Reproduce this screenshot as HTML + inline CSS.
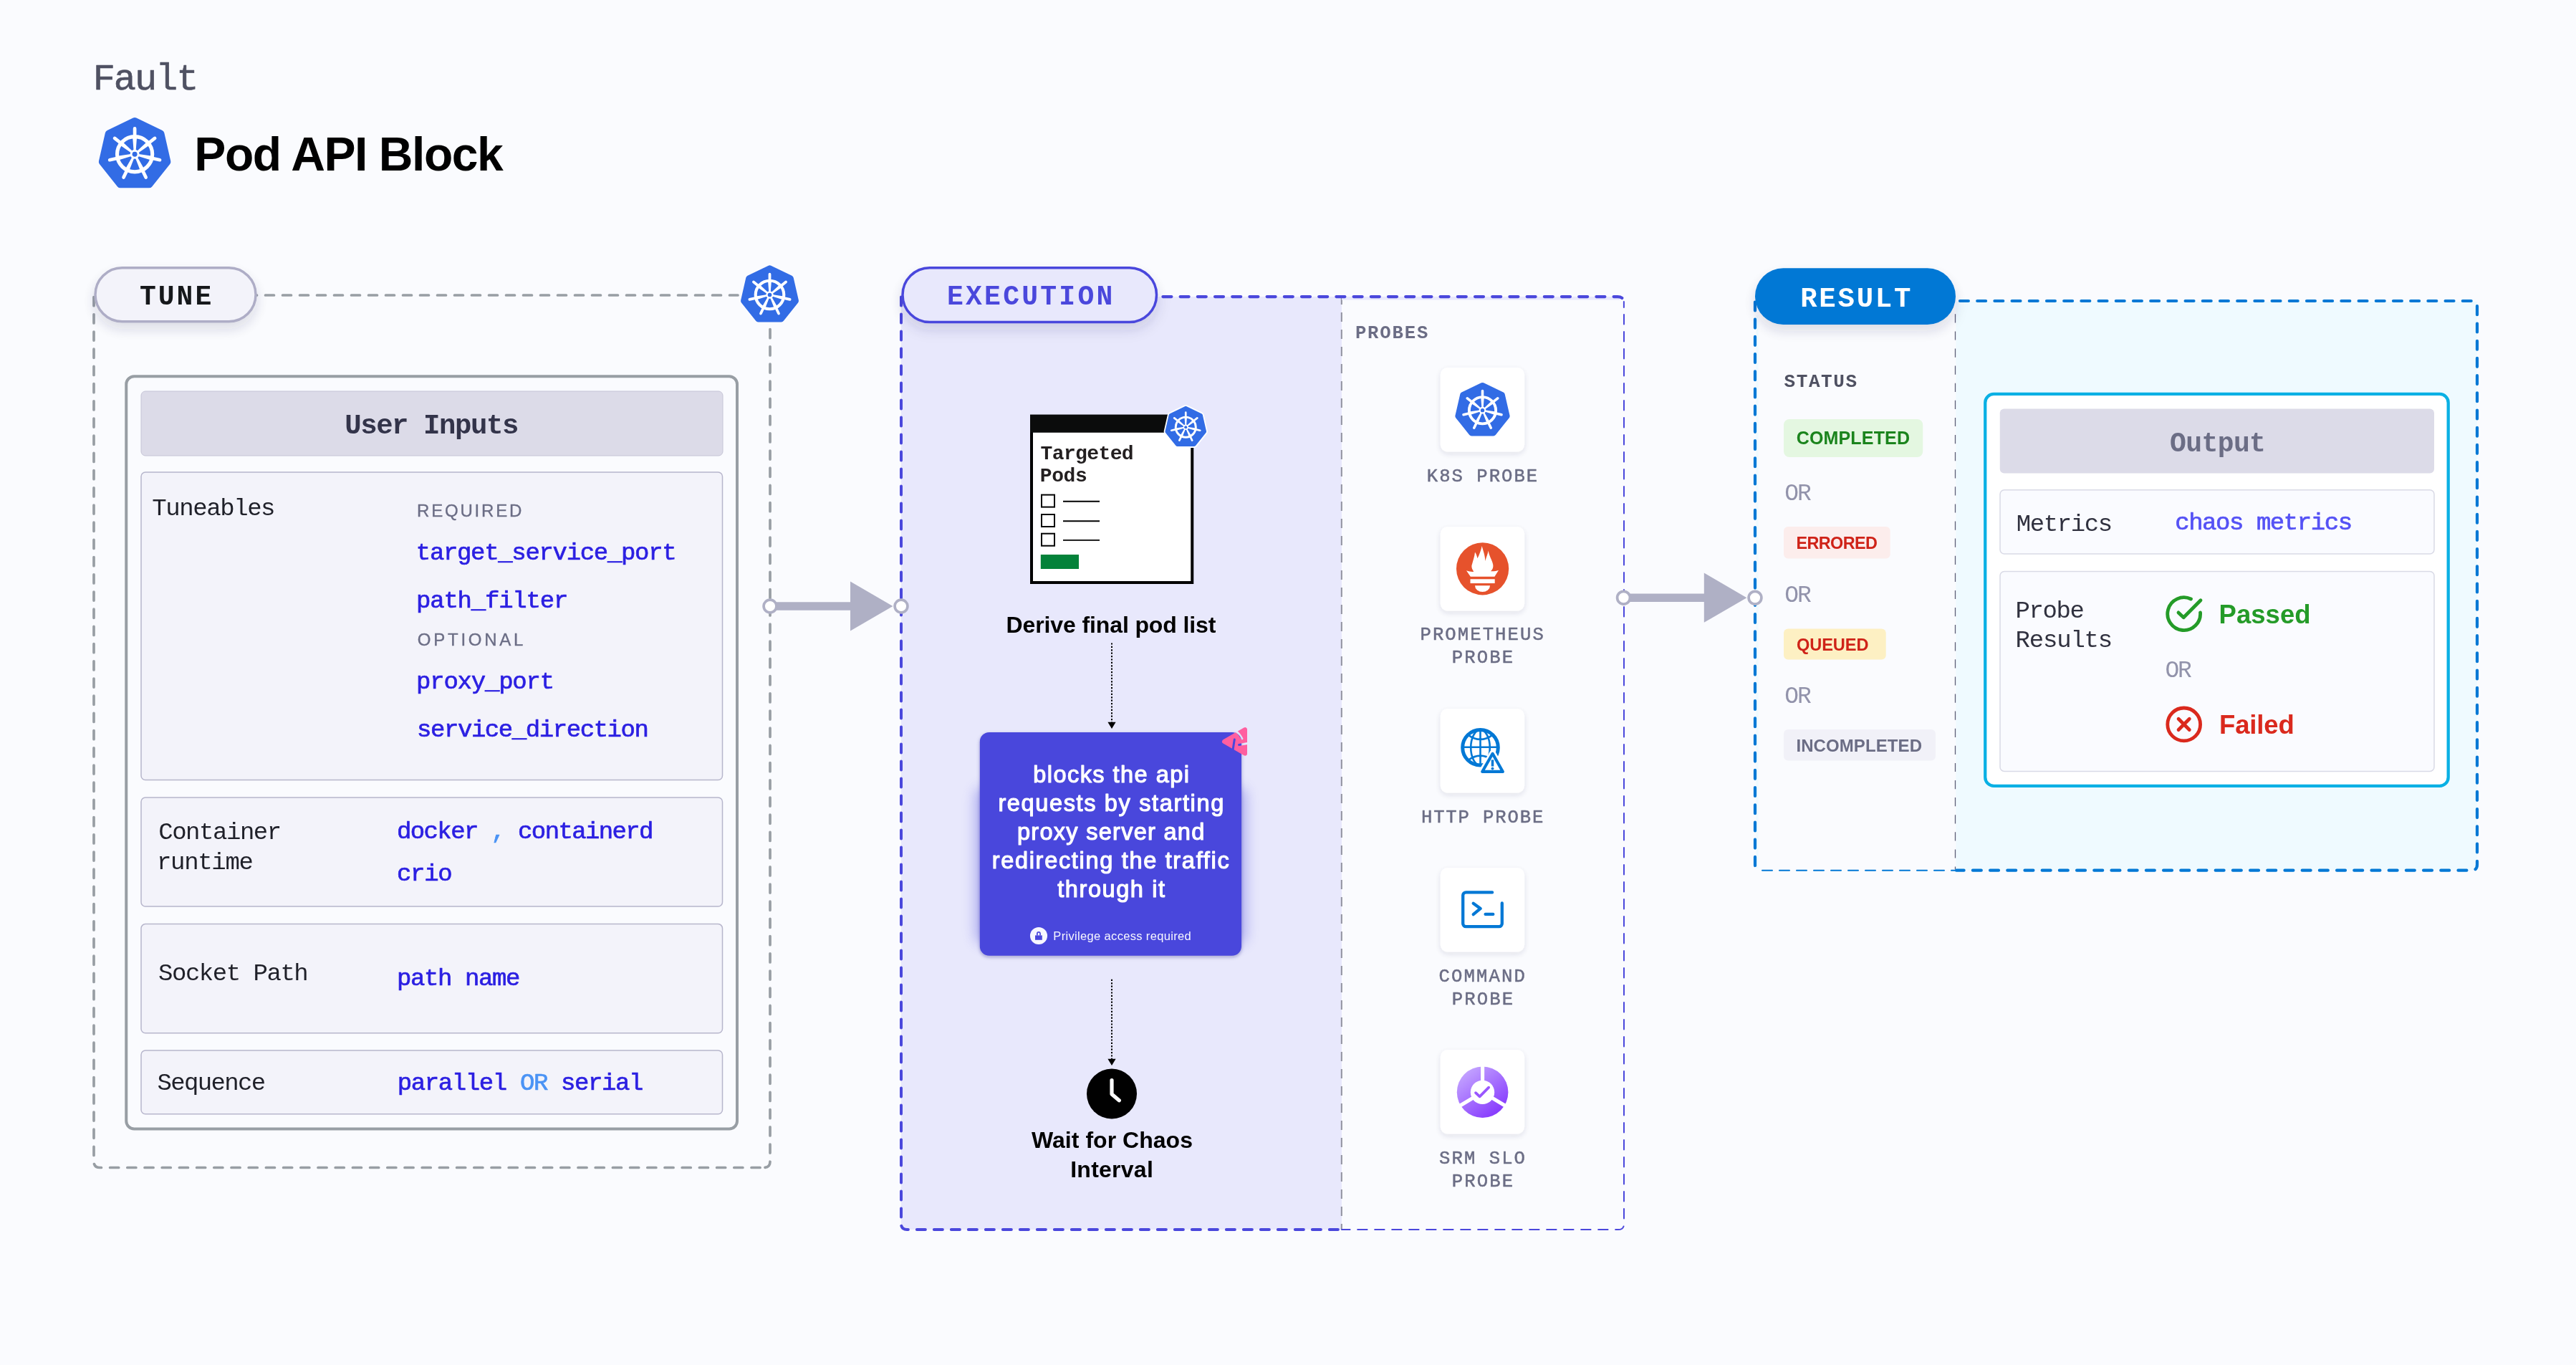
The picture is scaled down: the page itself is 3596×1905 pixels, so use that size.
<!DOCTYPE html>
<html lang="en"><head><meta charset="utf-8"><title>Pod API Block</title>
<style>html,body{margin:0;padding:0;background:#fafbfe}body{width:3596px;height:1905px;overflow:hidden}svg{display:block}text{white-space:pre}</style>
</head><body>
<svg width="3596" height="1905" viewBox="0 0 3596 1905">
<defs>
<filter id="shPill" x="-20%" y="-40%" width="140%" height="220%"><feDropShadow dx="0" dy="9" stdDeviation="9" flood-color="#28295a" flood-opacity="0.15"/></filter>
<filter id="shCard" x="-20%" y="-20%" width="140%" height="150%"><feDropShadow dx="0" dy="3" stdDeviation="4" flood-color="#28295a" flood-opacity="0.12"/></filter>
<filter id="shBlue" x="-30%" y="-30%" width="160%" height="170%"><feGaussianBlur stdDeviation="9"/></filter>
<filter id="shBlue2" x="-10%" y="-10%" width="120%" height="130%"><feDropShadow dx="0" dy="2" stdDeviation="2.5" flood-color="#1b1a78" flood-opacity="0.35"/></filter>
<linearGradient id="srm" x1="0.15" y1="0.1" x2="0.8" y2="0.95"><stop offset="0" stop-color="#c3a3ff"/><stop offset="1" stop-color="#8537fd"/></linearGradient>
<mask id="chm" maskUnits="userSpaceOnUse" x="1700" y="1008" width="50" height="56"><rect x="1700" y="1008" width="50" height="56" fill="#fff"/>
<path d="M1724.4,1019.3 Q1730.8,1024.6 1733.9,1030.8 M1729.6,1039.6 L1743,1037.2 M1723.3,1031.9 L1720.8,1048" stroke="#000" stroke-width="3" stroke-linecap="round" fill="none"/></mask>
</defs>
<rect width="3596" height="1905" fill="#fafbfe"/>
<g opacity="0.9999">
<text x="129.70" y="124.70" font-family="'Liberation Mono', monospace" font-weight="400" font-size="52" fill="#4f5162" letter-spacing="-2.075" stroke="#4f5162" stroke-width="0.6" stroke-linejoin="round" xml:space="preserve">Fault</text>
<polygon points="188.10,169.16 224.33,186.61 233.27,225.81 208.20,257.25 168.00,257.25 142.93,225.81 151.87,186.61" fill="#326ce5" stroke="#326ce5" stroke-width="10.24" stroke-linejoin="round"/>
<circle cx="188.10" cy="215.24" r="24.58" fill="none" stroke="#fff" stroke-width="5.12"/>
<path d="M189.53,211.66L191.07,191.18L185.13,191.18L186.67,211.66ZM191.80,214.13L208.77,202.56L205.06,197.92L190.01,211.89ZM191.28,217.44L210.90,223.49L212.22,217.70L191.91,214.64ZM188.36,219.10L195.87,238.21L201.22,235.64L190.95,217.85ZM185.25,217.85L174.98,235.64L180.33,238.21L187.84,219.10ZM184.29,214.64L163.98,217.70L165.30,223.49L184.92,217.44ZM186.19,211.89L171.14,197.92L167.43,202.56L184.40,214.13Z" fill="#fff"/>
<path d="M188.10,189.64L188.10,179.40M208.11,199.28L216.12,192.90M213.06,220.94L223.04,223.22M199.21,238.31L203.65,247.53M176.99,238.31L172.55,247.53M163.14,220.94L153.16,223.22M168.09,199.28L160.08,192.90" stroke="#fff" stroke-width="4.71" stroke-linecap="round" fill="none"/>
<circle cx="188.10" cy="215.24" r="6.40" fill="#fff"/>
<circle cx="188.10" cy="215.24" r="3.48" fill="#326ce5"/>
<text x="271.30" y="237.90" font-family="'Liberation Sans', sans-serif" font-weight="700" font-size="66" fill="#000000" letter-spacing="-1.425" xml:space="preserve">Pod API Block</text>
<path d="M346.5,412 H1030" fill="none" stroke="#989ea4" stroke-width="3.7" stroke-dasharray="12 12" stroke-linecap="round"/>
<path d="M131,414.6 V1621 Q131,1629.5 139.5,1629.5 H1066.5" fill="none" stroke="#989ea4" stroke-width="3.7" stroke-dasharray="12.1 12.1" stroke-linecap="round"/>
<path d="M1075,459.6 V1621 Q1075,1629.5 1066.5,1629.5" fill="none" stroke="#989ea4" stroke-width="3.7" stroke-dasharray="12.1 12.1" stroke-linecap="round"/>
<rect x="133" y="373.75" width="224" height="75" rx="37.5" fill="#f3f3fa" stroke="#aeadc6" stroke-width="3.5" filter="url(#shPill)"/>
<text x="194.90" y="425.00" font-family="'Liberation Mono', monospace" font-weight="700" font-size="38" fill="#16181b" letter-spacing="3.050" xml:space="preserve">TUNE</text>
<polygon points="1074.50,374.41 1103.65,388.45 1110.85,420.00 1090.68,445.29 1058.32,445.29 1038.15,420.00 1045.35,388.45" fill="#326ce5" stroke="#326ce5" stroke-width="8.24" stroke-linejoin="round"/>
<circle cx="1074.50" cy="411.49" r="19.78" fill="none" stroke="#fff" stroke-width="4.12"/>
<path d="M1075.65,408.61L1076.89,392.13L1072.11,392.13L1073.35,408.61ZM1077.47,410.60L1091.13,401.29L1088.15,397.55L1076.04,408.79ZM1077.05,413.26L1092.85,418.13L1093.91,413.47L1077.57,411.01ZM1074.71,414.59L1080.75,429.98L1085.05,427.90L1076.79,413.59ZM1072.21,413.59L1063.95,427.90L1068.25,429.98L1074.29,414.59ZM1071.43,411.01L1055.09,413.47L1056.15,418.13L1071.95,413.26ZM1072.96,408.79L1060.85,397.55L1057.87,401.29L1071.53,410.60Z" fill="#fff"/>
<path d="M1074.50,390.89L1074.50,382.65M1090.61,398.65L1097.05,393.51M1094.58,416.08L1102.62,417.91M1083.44,430.05L1087.01,437.48M1065.56,430.05L1061.99,437.48M1054.42,416.08L1046.38,417.91M1058.39,398.65L1051.95,393.51" stroke="#fff" stroke-width="3.79" stroke-linecap="round" fill="none"/>
<circle cx="1074.50" cy="411.49" r="5.15" fill="#fff"/>
<circle cx="1074.50" cy="411.49" r="2.80" fill="#326ce5"/>
<rect x="176.25" y="525.25" width="852.75" height="1050.25" rx="11" fill="#fafbfe" stroke="#989ea4" stroke-width="4"/>
<rect x="197" y="546" width="812" height="90" rx="6" fill="#dcdbe8" stroke="#c5c4d6" stroke-width="1"/>
<text x="481.20" y="605.30" font-family="'Liberation Mono', monospace" font-weight="700" font-size="39" fill="#33344a" letter-spacing="-1.430" xml:space="preserve">User Inputs</text>
<rect x="197" y="659" width="811.5" height="429.5" rx="6" fill="#f3f3fa" stroke="#b7b6cc" stroke-width="1.5"/>
<rect x="197" y="1113" width="811.5" height="152.0" rx="6" fill="#f3f3fa" stroke="#b7b6cc" stroke-width="1.5"/>
<rect x="197" y="1289.6" width="811.5" height="152.1" rx="6" fill="#f3f3fa" stroke="#b7b6cc" stroke-width="1.5"/>
<rect x="197" y="1466" width="811.5" height="88.7" rx="6" fill="#f3f3fa" stroke="#b7b6cc" stroke-width="1.5"/>
<text x="212.30" y="719.30" font-family="'Liberation Mono', monospace" font-weight="400" font-size="34" fill="#1f2029" letter-spacing="-1.425" xml:space="preserve">Tuneables</text>
<text x="582.00" y="720.70" font-family="'Liberation Sans', sans-serif" font-weight="400" font-size="24" fill="#6b6d85" letter-spacing="2.800" stroke="#6b6d85" stroke-width="0.35" stroke-linejoin="round" xml:space="preserve">REQUIRED</text>
<text x="580.80" y="781.10" font-family="'Liberation Mono', monospace" font-weight="400" font-size="34" fill="#2b1fe2" letter-spacing="-1.322" stroke="#2b1fe2" stroke-width="0.7" stroke-linejoin="round" xml:space="preserve">target_service_port</text>
<text x="581.00" y="847.50" font-family="'Liberation Mono', monospace" font-weight="400" font-size="34" fill="#2b1fe2" letter-spacing="-1.210" stroke="#2b1fe2" stroke-width="0.7" stroke-linejoin="round" xml:space="preserve">path_filter</text>
<text x="582.80" y="900.70" font-family="'Liberation Sans', sans-serif" font-weight="400" font-size="24" fill="#6b6d85" letter-spacing="3.757" stroke="#6b6d85" stroke-width="0.35" stroke-linejoin="round" xml:space="preserve">OPTIONAL</text>
<text x="581.00" y="961.10" font-family="'Liberation Mono', monospace" font-weight="400" font-size="34" fill="#2b1fe2" letter-spacing="-1.211" stroke="#2b1fe2" stroke-width="0.7" stroke-linejoin="round" xml:space="preserve">proxy_port</text>
<text x="582.00" y="1027.50" font-family="'Liberation Mono', monospace" font-weight="400" font-size="34" fill="#2b1fe2" letter-spacing="-1.431" stroke="#2b1fe2" stroke-width="0.7" stroke-linejoin="round" xml:space="preserve">service_direction</text>
<text x="221.20" y="1171.10" font-family="'Liberation Mono', monospace" font-weight="400" font-size="34" fill="#1f2029" letter-spacing="-1.450" xml:space="preserve">Container</text>
<text x="219.00" y="1212.50" font-family="'Liberation Mono', monospace" font-weight="400" font-size="34" fill="#1f2029" letter-spacing="-1.317" xml:space="preserve">runtime</text>
<text x="554.00" y="1170.30" font-family="'Liberation Mono', monospace" font-weight="400" font-size="34" fill="#2b1fe2" letter-spacing="-1.622" stroke="#2b1fe2" stroke-width="0.7" stroke-linejoin="round" xml:space="preserve"><tspan fill="#2b1fe2" stroke="#2b1fe2">docker </tspan><tspan fill="#4a93f5" stroke="#4a93f5">,</tspan><tspan fill="#2b1fe2" stroke="#2b1fe2"> containerd</tspan></text>
<text x="553.90" y="1228.60" font-family="'Liberation Mono', monospace" font-weight="400" font-size="34" fill="#2b1fe2" letter-spacing="-1.267" stroke="#2b1fe2" stroke-width="0.7" stroke-linejoin="round" xml:space="preserve">crio</text>
<text x="221.10" y="1368.30" font-family="'Liberation Mono', monospace" font-weight="400" font-size="34" fill="#1f2029" letter-spacing="-1.480" xml:space="preserve">Socket Path</text>
<text x="553.90" y="1374.60" font-family="'Liberation Mono', monospace" font-weight="400" font-size="34" fill="#2b1fe2" letter-spacing="-1.375" stroke="#2b1fe2" stroke-width="0.7" stroke-linejoin="round" xml:space="preserve">path name</text>
<text x="219.40" y="1521.10" font-family="'Liberation Mono', monospace" font-weight="400" font-size="34" fill="#1f2029" letter-spacing="-1.643" xml:space="preserve">Sequence</text>
<text x="554.80" y="1521.10" font-family="'Liberation Mono', monospace" font-weight="400" font-size="34" fill="#2b1fe2" letter-spacing="-1.394" stroke="#2b1fe2" stroke-width="0.7" stroke-linejoin="round" xml:space="preserve"><tspan fill="#2b1fe2" stroke="#2b1fe2">parallel </tspan><tspan fill="#4a93f5" stroke="#4a93f5">OR</tspan><tspan fill="#2b1fe2" stroke="#2b1fe2"> serial</tspan></text>
<rect x="1258" y="414" width="615" height="1302" fill="#e8e8fc"/>
<path d="M1872.8,411.9 V1716" fill="none" stroke="#90919f" stroke-width="2" stroke-dasharray="13 11"/>
<rect x="1873" y="414" width="388" height="4.6" fill="#e8e8fc"/>
<path d="M1623.45,414.1 H2258 Q2267,414.1 2267,423" fill="none" stroke="#4a47dc" stroke-width="4.3" stroke-dasharray="11.9 12.3" stroke-linecap="round"/>
<path d="M1258,414.5 V1708 Q1258,1716 1266,1716 H1873" fill="none" stroke="#4a47dc" stroke-width="4" stroke-dasharray="12 12" stroke-linecap="round"/>
<path d="M2267,439.1 V1708 Q2267,1716 2259,1716 H1873" fill="none" stroke="#4a47dc" stroke-width="2" stroke-dasharray="13.4 10.6" stroke-linecap="round"/>
<path d="M2266.9,421 V429" fill="none" stroke="#4a47dc" stroke-width="2" stroke-linecap="round"/>
<rect x="1260" y="373.75" width="354.5" height="75.75" rx="37.8" fill="#e8e8fc" stroke="#4a47dc" stroke-width="3.5" filter="url(#shPill)"/>
<text x="1322.00" y="425.00" font-family="'Liberation Mono', monospace" font-weight="700" font-size="38" fill="#4a47dc" letter-spacing="3.256" xml:space="preserve">EXECUTION</text>
<path d="M1075,846 H1189" stroke="#afb0c5" stroke-width="11.5" fill="none"/>
<polygon points="1187,811.4 1187,880.6 1246.4,846" fill="#afb0c5"/>
<circle cx="1075" cy="846" r="8.9" fill="#fff" stroke="#afb0c5" stroke-width="3.7"/>
<circle cx="1258" cy="846" r="8.9" fill="#fff" stroke="#afb0c5" stroke-width="3.7"/>
<rect x="1440" y="580.75" width="224.25" height="232.25" fill="#fff" stroke="#000" stroke-width="4"/>
<rect x="1438" y="578.75" width="228.25" height="25" fill="#0b0c0c"/>
<rect x="1454" y="690.6" width="18" height="17" fill="#fff" stroke="#000" stroke-width="2"/>
<path d="M1484,699.8000000000001 H1535" stroke="#000" stroke-width="1.9"/>
<rect x="1454" y="718" width="18" height="17" fill="#fff" stroke="#000" stroke-width="2"/>
<path d="M1484,727.2 H1535" stroke="#000" stroke-width="1.9"/>
<rect x="1454" y="744.7" width="18" height="17" fill="#fff" stroke="#000" stroke-width="2"/>
<path d="M1484,753.9000000000001 H1535" stroke="#000" stroke-width="1.9"/>
<rect x="1452.8" y="774" width="53.2" height="20" fill="#04823a"/>
<text x="1452.50" y="640.50" font-family="'Liberation Mono', monospace" font-weight="700" font-size="28" fill="#231f20" letter-spacing="-0.607" xml:space="preserve">Targeted</text>
<text x="1451.80" y="672.00" font-family="'Liberation Mono', monospace" font-weight="700" font-size="28" fill="#231f20" letter-spacing="-0.433" xml:space="preserve">Pods</text>
<polygon points="1655.25,569.78 1675.98,579.77 1681.10,602.20 1666.76,620.19 1643.74,620.19 1629.40,602.20 1634.52,579.77" fill="#fff" stroke="#fff" stroke-width="9.46" stroke-linejoin="round"/>
<polygon points="1655.25,569.78 1675.98,579.77 1681.10,602.20 1666.76,620.19 1643.74,620.19 1629.40,602.20 1634.52,579.77" fill="#326ce5" stroke="#326ce5" stroke-width="5.86" stroke-linejoin="round"/>
<circle cx="1655.25" cy="596.15" r="14.06" fill="none" stroke="#fff" stroke-width="2.93"/>
<path d="M1656.07,594.10L1656.95,582.38L1653.55,582.38L1654.43,594.10ZM1657.37,595.52L1667.08,588.90L1664.96,586.24L1656.34,594.23ZM1657.07,597.41L1668.30,600.87L1669.05,597.56L1657.43,595.81ZM1655.40,598.36L1659.69,609.30L1662.76,607.82L1656.88,597.65ZM1653.62,597.65L1647.74,607.82L1650.81,609.30L1655.10,598.36ZM1653.07,595.81L1641.45,597.56L1642.20,600.87L1653.43,597.41ZM1654.16,594.23L1645.54,586.24L1643.42,588.90L1653.13,595.52Z" fill="#fff"/>
<path d="M1655.25,581.50L1655.25,575.64M1666.70,587.02L1671.29,583.37M1669.53,599.41L1675.25,600.72M1661.61,609.35L1664.15,614.63M1648.89,609.35L1646.35,614.63M1640.97,599.41L1635.25,600.72M1643.80,587.02L1639.21,583.37" stroke="#fff" stroke-width="2.70" stroke-linecap="round" fill="none"/>
<circle cx="1655.25" cy="596.15" r="3.66" fill="#fff"/>
<circle cx="1655.25" cy="596.15" r="1.99" fill="#326ce5"/>
<text x="1404.60" y="882.50" font-family="'Liberation Sans', sans-serif" font-weight="700" font-size="32" fill="#000" letter-spacing="-0.120" xml:space="preserve">Derive final pod list</text>
<path d="M1552,897.4 V1009" stroke="#000" stroke-width="2" stroke-dasharray="2.2 2.2" fill="none"/>
<polygon points="1546.4,1007.7 1557.6,1007.7 1552,1017" fill="#000"/>
<path d="M1552,1366.8 V1479" stroke="#000" stroke-width="2" stroke-dasharray="2.2 2.2" fill="none"/>
<polygon points="1546.4,1477.7 1557.6,1477.7 1552,1487" fill="#000"/>
<rect x="1361" y="1098" width="379" height="220" rx="14" fill="#4a47dc" opacity="0.36" filter="url(#shBlue)"/>
<rect x="1367.8" y="1022" width="365.2" height="311.8" rx="13" fill="#4a47dc" filter="url(#shBlue2)"/>
<text x="1442.20" y="1091.70" font-family="'Liberation Sans', sans-serif" font-weight="400" font-size="32.5" fill="#ffffff" letter-spacing="1.462" stroke="#ffffff" stroke-width="1.15" stroke-linejoin="round" xml:space="preserve">blocks the api</text>
<text x="1393.40" y="1131.60" font-family="'Liberation Sans', sans-serif" font-weight="400" font-size="32.5" fill="#ffffff" letter-spacing="1.642" stroke="#ffffff" stroke-width="1.15" stroke-linejoin="round" xml:space="preserve">requests by starting</text>
<text x="1420.00" y="1171.60" font-family="'Liberation Sans', sans-serif" font-weight="400" font-size="32.5" fill="#ffffff" letter-spacing="1.280" stroke="#ffffff" stroke-width="1.15" stroke-linejoin="round" xml:space="preserve">proxy server and</text>
<text x="1384.70" y="1211.50" font-family="'Liberation Sans', sans-serif" font-weight="400" font-size="32.5" fill="#ffffff" letter-spacing="1.686" stroke="#ffffff" stroke-width="1.15" stroke-linejoin="round" xml:space="preserve">redirecting the traffic</text>
<text x="1476.20" y="1251.50" font-family="'Liberation Sans', sans-serif" font-weight="400" font-size="32.5" fill="#ffffff" letter-spacing="1.589" stroke="#ffffff" stroke-width="1.15" stroke-linejoin="round" xml:space="preserve">through it</text>
<circle cx="1450" cy="1306" r="12.05" fill="#f7f7ff"/>
<rect x="1445" y="1305.4" width="9.8" height="6.4" fill="#4a47dc"/>
<path d="M1447.85,1305.6 V1303 a2.1,2.1 0 0 1 4.2,0 V1305.6" fill="none" stroke="#4a47dc" stroke-width="1.7"/>
<text x="1470.30" y="1311.80" font-family="'Liberation Sans', sans-serif" font-weight="400" font-size="16.5" fill="#f7f7ff" letter-spacing="0.338" xml:space="preserve">Privilege access required</text>
<polygon points="1709,1034.9 1738,1018.1 1738,1051.7" fill="#ff5fa0" stroke="#ff5fa0" stroke-width="6" stroke-linejoin="round" mask="url(#chm)"/>
<circle cx="1552" cy="1526.5" r="35" fill="#000"/>
<path d="M1552,1507.5 V1527 L1562.3,1535.8" fill="none" stroke="#fff" stroke-width="5.2" stroke-linecap="round" stroke-linejoin="round"/>
<text x="1440.00" y="1601.50" font-family="'Liberation Sans', sans-serif" font-weight="700" font-size="32" fill="#000" letter-spacing="0.031" xml:space="preserve">Wait for Chaos</text>
<text x="1494.20" y="1643.40" font-family="'Liberation Sans', sans-serif" font-weight="700" font-size="32" fill="#000" letter-spacing="0.257" xml:space="preserve">Interval</text>
<text x="1891.90" y="471.80" font-family="'Liberation Mono', monospace" font-weight="700" font-size="25.6" fill="#6b6d85" letter-spacing="1.860" xml:space="preserve">PROBES</text>
<rect x="2010.7" y="513" width="117.4" height="117.5" rx="10" fill="#fff" filter="url(#shCard)"/>
<rect x="2010.7" y="735" width="117.4" height="117.5" rx="10" fill="#fff" filter="url(#shCard)"/>
<rect x="2010.7" y="989" width="117.4" height="117.5" rx="10" fill="#fff" filter="url(#shCard)"/>
<rect x="2010.7" y="1211" width="117.4" height="117.5" rx="10" fill="#fff" filter="url(#shCard)"/>
<rect x="2010.7" y="1465" width="117.4" height="117.5" rx="10" fill="#fff" filter="url(#shCard)"/>
<polygon points="2069.50,537.79 2096.95,551.01 2103.73,580.71 2084.74,604.54 2054.26,604.54 2035.27,580.71 2042.05,551.01" fill="#326ce5" stroke="#326ce5" stroke-width="7.76" stroke-linejoin="round"/>
<circle cx="2069.50" cy="572.71" r="18.62" fill="none" stroke="#fff" stroke-width="3.88"/>
<path d="M2070.59,569.99L2071.75,554.47L2067.25,554.47L2068.41,569.99ZM2072.30,571.86L2085.16,563.10L2082.35,559.58L2070.95,570.16ZM2071.91,574.37L2086.78,578.96L2087.78,574.57L2072.39,572.25ZM2069.70,575.62L2075.38,590.11L2079.44,588.16L2071.66,574.68ZM2067.34,574.68L2059.56,588.16L2063.62,590.11L2069.30,575.62ZM2066.61,572.25L2051.22,574.57L2052.22,578.96L2067.09,574.37ZM2068.05,570.16L2056.65,559.58L2053.84,563.10L2066.70,571.86Z" fill="#fff"/>
<path d="M2069.50,553.31L2069.50,545.55M2084.67,560.61L2090.73,555.77M2088.41,577.02L2095.98,578.75M2077.92,590.18L2081.28,597.18M2061.08,590.18L2057.72,597.18M2050.59,577.02L2043.02,578.75M2054.33,560.61L2048.27,555.77" stroke="#fff" stroke-width="3.57" stroke-linecap="round" fill="none"/>
<circle cx="2069.50" cy="572.71" r="4.85" fill="#fff"/>
<circle cx="2069.50" cy="572.71" r="2.64" fill="#326ce5"/>
<text x="1991.80" y="671.60" font-family="'Liberation Mono', monospace" font-weight="400" font-size="25.6" fill="#6b6d85" letter-spacing="2.025" stroke="#6b6d85" stroke-width="0.5" stroke-linejoin="round" xml:space="preserve">K8S PROBE</text>
<circle cx="2069.6" cy="793.8" r="36.6" fill="#e6522c"/>
<g transform="translate(2069.6,793.8) scale(36.6)" fill="#fff"><path d="M-0.618,0.067 C-0.52,0.10 -0.42,0.12 -0.332,0.11 C-0.42,0.0 -0.43,-0.10 -0.40,-0.17 C-0.36,-0.33 -0.30,-0.48 -0.29,-0.634 C-0.24,-0.56 -0.21,-0.48 -0.198,-0.396 C-0.13,-0.52 -0.06,-0.70 -0.024,-0.872 C0.02,-0.70 0.10,-0.50 0.102,-0.297 C0.13,-0.42 0.20,-0.56 0.223,-0.69 C0.24,-0.50 0.36,-0.35 0.397,-0.171 C0.42,-0.05 0.38,0.03 0.313,0.095 C0.42,0.10 0.52,0.09 0.613,0.053 L0.459,0.30 L-0.459,0.30 Z"/><rect x="-0.467" y="0.395" width="0.934" height="0.158"/><path d="M-0.29,0.642 H0.285 A0.2875,0.24 0 0 1 -0.29,0.642 Z"/></g>
<text x="1982.50" y="893.20" font-family="'Liberation Mono', monospace" font-weight="400" font-size="25.6" fill="#6b6d85" letter-spacing="2.078" stroke="#6b6d85" stroke-width="0.5" stroke-linejoin="round" xml:space="preserve">PROMETHEUS</text>
<text x="2026.70" y="925.20" font-family="'Liberation Mono', monospace" font-weight="400" font-size="25.6" fill="#6b6d85" letter-spacing="2.175" stroke="#6b6d85" stroke-width="0.5" stroke-linejoin="round" xml:space="preserve">PROBE</text>
<g fill="none" stroke="#0278d5" stroke-linecap="round" stroke-linejoin="round"><circle cx="2066.5" cy="1043.3" r="24.8" stroke-width="5"/><ellipse cx="2066.5" cy="1043.3" rx="13.3" ry="24.8" stroke-width="2.6"/><path d="M2066.5,1018.5 V1068.1 M2041.7,1042.7 H2091.3 M2050.0,1026.1 Q2066.5,1037.8 2083.0,1026.1 M2050.0,1060.5 Q2066.5,1048.8 2083.0,1060.5" stroke-width="2.6"/></g>
<polygon points="2083.6,1051.8 2097.9,1076.9 2069.2,1076.9" fill="#fff" stroke="#fff" stroke-width="9.5" stroke-linejoin="round"/>
<polygon points="2083.6,1051.8 2097.9,1076.9 2069.2,1076.9" fill="#fff" stroke="#0278d5" stroke-width="4.1" stroke-linejoin="round"/>
<path d="M2083.5,1060.4 V1069.6" stroke="#0278d5" stroke-width="3.5" fill="none"/>
<circle cx="2083.5" cy="1072.6" r="1.95" fill="#0278d5"/>
<text x="1983.90" y="1147.90" font-family="'Liberation Mono', monospace" font-weight="400" font-size="25.6" fill="#6b6d85" letter-spacing="1.878" stroke="#6b6d85" stroke-width="0.5" stroke-linejoin="round" xml:space="preserve">HTTP PROBE</text>
<g fill="none" stroke="#0278d5" stroke-width="4.3" stroke-linecap="round" stroke-linejoin="round"><path d="M2083.1,1245.4 H2046.4 a4.2,4.2 0 0 0 -4.2,4.2 V1289 a4.2,4.2 0 0 0 4.2,4.2 H2092.6 a4.2,4.2 0 0 0 4.2,-4.2 V1260.5"/><path d="M2056.7,1260.7 L2066.7,1267.9 L2056.7,1276.1 M2073.6,1275.9 H2084.3"/></g>
<text x="2008.60" y="1369.70" font-family="'Liberation Mono', monospace" font-weight="400" font-size="25.6" fill="#6b6d85" letter-spacing="2.133" stroke="#6b6d85" stroke-width="0.5" stroke-linejoin="round" xml:space="preserve">COMMAND</text>
<text x="2026.70" y="1401.60" font-family="'Liberation Mono', monospace" font-weight="400" font-size="25.6" fill="#6b6d85" letter-spacing="2.175" stroke="#6b6d85" stroke-width="0.5" stroke-linejoin="round" xml:space="preserve">PROBE</text>
<circle cx="2069.6" cy="1524.2" r="35.8" fill="url(#srm)"/>
<path d="M2069.60,1514.20L2069.60,1486.20M2078.17,1529.35L2102.17,1543.77M2061.03,1529.35L2037.03,1543.77" stroke="#fff" stroke-width="5.1" fill="none"/>
<circle cx="2069.5" cy="1524.4" r="16.7" fill="#fff"/>
<path d="M2060,1525.1 L2065.6,1530.4 L2078.2,1517.6" stroke="#9a57ff" stroke-width="3.7" fill="none" stroke-linecap="round" stroke-linejoin="round"/>
<text x="2009.10" y="1623.80" font-family="'Liberation Mono', monospace" font-weight="400" font-size="25.6" fill="#6b6d85" letter-spacing="2.050" stroke="#6b6d85" stroke-width="0.5" stroke-linejoin="round" xml:space="preserve">SRM SLO</text>
<text x="2026.70" y="1655.70" font-family="'Liberation Mono', monospace" font-weight="400" font-size="25.6" fill="#6b6d85" letter-spacing="2.175" stroke="#6b6d85" stroke-width="0.5" stroke-linejoin="round" xml:space="preserve">PROBE</text>
<rect x="2730.5" y="421" width="727.5" height="793.5" fill="#effaff"/>
<path d="M2729.5,438.3 V1213" fill="none" stroke="#5e6078" stroke-width="1.3" stroke-dasharray="12.2 11.9"/>
<rect x="2451.5" y="440" width="3" height="772" fill="#effaff"/>
<path d="M2736,420 H3450 Q3458,420 3458,428 V1206.7 Q3458,1214.7 3450,1214.7 H2731" fill="none" stroke="#0278d5" stroke-width="4.2" stroke-dasharray="11.9 12.3" stroke-linecap="round"/>
<path d="M2450,421.5 V1206.7 Q2450,1214.7 2458,1214.7" fill="none" stroke="#0278d5" stroke-width="4.2" stroke-dasharray="11.9 12.3" stroke-linecap="round"/>
<path d="M2460,1214.7 H2729" fill="none" stroke="#0278d5" stroke-width="2" stroke-dasharray="14 10" stroke-linecap="round"/>
<rect x="2450" y="374.25" width="280" height="78.75" rx="39.4" fill="#0278d5" filter="url(#shPill)"/>
<text x="2513.15" y="427.50" font-family="'Liberation Mono', monospace" font-weight="700" font-size="39" fill="#ffffff" letter-spacing="2.760" xml:space="preserve">RESULT</text>
<text x="2490.60" y="540.00" font-family="'Liberation Mono', monospace" font-weight="700" font-size="26" fill="#4f5162" letter-spacing="1.560" xml:space="preserve">STATUS</text>
<rect x="2490" y="585" width="194.25" height="53" rx="8" fill="#e4f7e1"/>
<text x="2507.75" y="620.00" font-family="'Liberation Sans', sans-serif" font-weight="700" font-size="25" fill="#1b841d" letter-spacing="0.156" xml:space="preserve">COMPLETED</text>
<text x="2491.30" y="697.90" font-family="'Liberation Mono', monospace" font-weight="400" font-size="33" fill="#9293ab" letter-spacing="-2.100" xml:space="preserve">OR</text>
<rect x="2490" y="735" width="148.7" height="44.4" rx="6" fill="#fcedec"/>
<text x="2507.50" y="765.70" font-family="'Liberation Sans', sans-serif" font-weight="700" font-size="23.4" fill="#cf2318" letter-spacing="-0.600" xml:space="preserve">ERRORED</text>
<text x="2491.30" y="840.00" font-family="'Liberation Mono', monospace" font-weight="400" font-size="33" fill="#9293ab" letter-spacing="-2.100" xml:space="preserve">OR</text>
<rect x="2490" y="877.4" width="142.7" height="43.1" rx="6" fill="#fdf0c3"/>
<text x="2508.10" y="907.70" font-family="'Liberation Sans', sans-serif" font-weight="700" font-size="23.6" fill="#cf2318" letter-spacing="-0.120" xml:space="preserve">QUEUED</text>
<text x="2491.30" y="980.60" font-family="'Liberation Mono', monospace" font-weight="400" font-size="33" fill="#9293ab" letter-spacing="-2.100" xml:space="preserve">OR</text>
<rect x="2490" y="1018" width="212" height="43.4" rx="6" fill="#f1f1f8"/>
<text x="2507.40" y="1049.00" font-family="'Liberation Sans', sans-serif" font-weight="700" font-size="24" fill="#6b6d85" letter-spacing="0.090" xml:space="preserve">INCOMPLETED</text>
<rect x="2771.25" y="549.9" width="646.45" height="546.9" rx="12" fill="#fff" stroke="#0ab0e4" stroke-width="4.3"/>
<rect x="2791.75" y="570.5" width="606.25" height="90" rx="6" fill="#dcdbe8"/>
<text x="3029.10" y="629.80" font-family="'Liberation Mono', monospace" font-weight="700" font-size="38" fill="#6b6d85" letter-spacing="-0.600" xml:space="preserve">Output</text>
<rect x="2792" y="683.7" width="606" height="89.3" rx="6" fill="#fafbff" stroke="#d9dae6" stroke-width="1.5"/>
<rect x="2792" y="797.5" width="606" height="278.9" rx="6" fill="#fafbff" stroke="#d9dae6" stroke-width="1.5"/>
<text x="2814.80" y="740.70" font-family="'Liberation Mono', monospace" font-weight="400" font-size="34" fill="#30313f" letter-spacing="-1.400" xml:space="preserve">Metrics</text>
<text x="3036.20" y="739.40" font-family="'Liberation Mono', monospace" font-weight="400" font-size="34" fill="#5552f5" letter-spacing="-1.450" stroke="#5552f5" stroke-width="0.7" stroke-linejoin="round" xml:space="preserve">chaos metrics</text>
<text x="2813.60" y="861.50" font-family="'Liberation Mono', monospace" font-weight="400" font-size="34" fill="#30313f" letter-spacing="-1.450" xml:space="preserve">Probe</text>
<text x="2813.60" y="902.60" font-family="'Liberation Mono', monospace" font-weight="400" font-size="34" fill="#30313f" letter-spacing="-1.200" xml:space="preserve">Results</text>
<path d="M3071.54,854.98 A22.9,22.9 0 1 1 3058.52,836.01" fill="none" stroke="#249b28" stroke-width="4.8" stroke-linecap="round"/>
<path d="M3041,854.9 L3048.2,861.8 L3072,837.7" fill="none" stroke="#249b28" stroke-width="4.8" stroke-linecap="round" stroke-linejoin="round"/>
<text x="3097.50" y="869.60" font-family="'Liberation Sans', sans-serif" font-weight="700" font-size="36.5" fill="#249b28" letter-spacing="0.060" xml:space="preserve">Passed</text>
<text x="3022.50" y="945.00" font-family="'Liberation Mono', monospace" font-weight="400" font-size="33" fill="#9293ab" letter-spacing="-2.200" xml:space="preserve">OR</text>
<circle cx="3048.7" cy="1010.9" r="22.9" fill="none" stroke="#da291d" stroke-width="4.8"/>
<path d="M3041.1,1003.3 L3056.2999999999997,1018.5 M3056.2999999999997,1003.3 L3041.1,1018.5" stroke="#da291d" stroke-width="4.8" stroke-linecap="round"/>
<text x="3098.00" y="1023.70" font-family="'Liberation Sans', sans-serif" font-weight="700" font-size="36.5" fill="#da291d" letter-spacing="-0.160" xml:space="preserve">Failed</text>
<path d="M2266.5,834.2 H2380.8" stroke="#afb0c5" stroke-width="11.5" fill="none"/>
<polygon points="2378.8,799.6 2378.8,868.8000000000001 2438.4,834.2" fill="#afb0c5"/>
<circle cx="2266.5" cy="834.2" r="8.9" fill="#fff" stroke="#afb0c5" stroke-width="3.7"/>
<circle cx="2450" cy="834.2" r="8.9" fill="#fff" stroke="#afb0c5" stroke-width="3.7"/>
</g>
</svg>
</body></html>
